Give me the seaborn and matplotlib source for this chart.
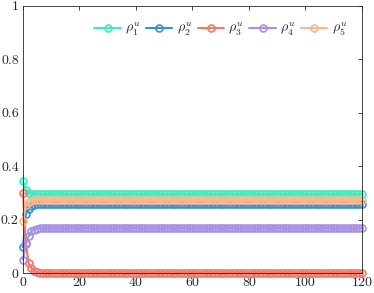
import numpy as np
import pandas as pd
import matplotlib
matplotlib.use("Agg")
import matplotlib.pyplot as plt
import seaborn as sns

# iterations 0..120
steps = list(range(121))

# values: transient part, then the settled value
rho1 = [0.346, 0.31, 0.30, 0.297] + [0.295] * 117
rho2 = [0.097, 0.22, 0.24, 0.25, 0.255] + [0.257] * 116
rho3 = [0.298, 0.113, 0.036, 0.018, 0.008, 0.003] + [0.0] * 115
rho4 = [0.05, 0.109, 0.139, 0.157, 0.163, 0.166] + [0.168] * 115
rho5 = [0.196, 0.255, 0.265, 0.27] + [0.273] * 117

labels = [r"$\rho_1^u$", r"$\rho_2^u$", r"$\rho_3^u$", r"$\rho_4^u$", r"$\rho_5^u$"]
colors = ["#3FEBC3", "#3A8ED6", "#F27A6B", "#A98FE3", "#F9B98C"]

sns.set_style("white")
plt.rcParams["font.family"] = "serif"
plt.rcParams["font.serif"] = ["cmr10", "DejaVu Serif"]
plt.rcParams["mathtext.fontset"] = "cm"
plt.rcParams["axes.formatter.use_mathtext"] = True

fig = plt.figure(figsize=(3.74, 2.93), dpi=100)
ax = fig.add_axes([0.0615, 0.068, 0.906, 0.912])

for vals, lab, col in zip([rho1, rho2, rho3, rho4, rho5], labels, colors):
    sns.lineplot(x=steps, y=vals, ax=ax, color=col, label=lab, linewidth=1.5,
                 marker="o", markersize=5, markerfacecolor="none",
                 markeredgecolor=col, markeredgewidth=1.2, clip_on=False)

ax.set_xlim(0, 120)
ax.set_ylim(0, 1)
ax.set_xticks([0, 20, 40, 60, 80, 100, 120])
ax.set_yticks([0, 0.2, 0.4, 0.6, 0.8, 1])
ax.set_yticklabels(["0", "0.2", "0.4", "0.6", "0.8", "1"])
ax.set_xticklabels(["0", "20", "40", "60", "80", "100", "120"])
ax.tick_params(direction="in", length=3, width=0.6, top=True, right=True,
               labelsize=10, colors="#262626", pad=3)
for s in ax.spines.values():
    s.set_visible(True)
    s.set_color("#262626")
    s.set_linewidth(0.6)

ax.legend(loc="upper right", ncol=5, frameon=False, fontsize=10,
          handlelength=1.9, handletextpad=0.3, columnspacing=0.4,
          borderaxespad=0.3, bbox_to_anchor=(0.985, 0.98))

fig.savefig("out.png", dpi=100)
